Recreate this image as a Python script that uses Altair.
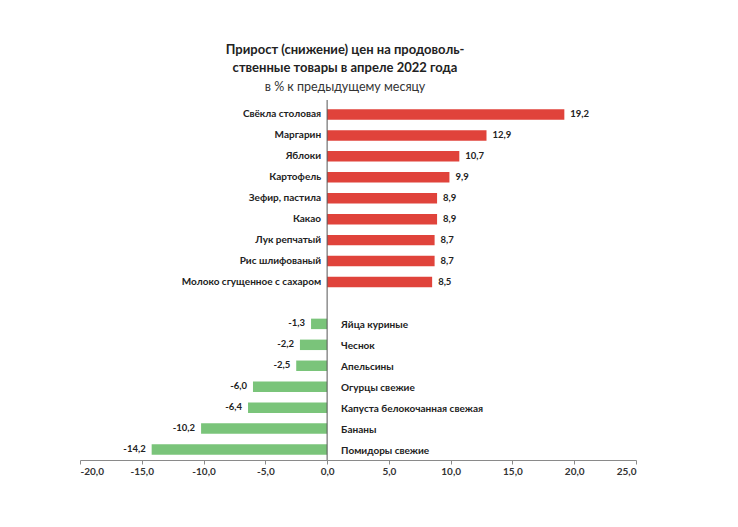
import altair as alt
import pandas as pd

pos_items = ["Свёкла столовая", "Маргарин", "Яблоки", "Картофель", "Зефир, пастила",
             "Какао", "Лук репчатый", "Рис шлифованый", "Молоко сгущенное с сахаром"]
pos_values = [19.2, 12.9, 10.7, 9.9, 8.9, 8.9, 8.7, 8.7, 8.5]

neg_items = ["Яйца куриные", "Чеснок", "Апельсины", "Огурцы свежие",
             "Капуста белокочанная свежая", "Бананы", "Помидоры свежие"]
neg_values = [-1.3, -2.2, -2.5, -6.0, -6.4, -10.2, -14.2]

x_ticks = [-20, -15, -10, -5, 0, 5, 10, 15, 20, 25]

title_lines = ["Прирост (снижение) цен на продоволь-", "ственные товары в апреле 2022 года"]
subtitle = "в % к предыдущему месяцу"

SPACER = " "
FONT = "Lato"

rows = []
for n, v in zip(pos_items, pos_values):
    rows.append({"item": n, "value": v, "sign": "pos", "label": f"{v:.1f}".replace(".", ",")})
for n, v in zip(neg_items, neg_values):
    rows.append({"item": n, "value": v, "sign": "neg", "label": f"{v:.1f}".replace(".", ",")})
df = pd.DataFrame(rows)

domain = pos_items + [SPACER] + neg_items

x_enc = alt.X("value:Q",
              scale=alt.Scale(domain=[-20, 25], nice=False, zero=False),
              axis=alt.Axis(values=x_ticks, title=None, grid=False,
                            domainColor="#8a8a8a", tickColor="#8a8a8a", tickSize=4,
                            labelFont=FONT, labelFontSize=10, labelFontWeight="bold",
                            labelColor="#333333", labelPadding=2,
                            labelExpr="replace(replace(format(datum.value, '.1f'), '.', ','), '−', '-')"))
y_enc = alt.Y("item:N", scale=alt.Scale(domain=domain, paddingInner=0.5, paddingOuter=0.25),
              axis=None, sort=domain)

base = alt.Chart(df)

bars = base.mark_bar().encode(
    x=x_enc, y=y_enc,
    color=alt.Color("sign:N", scale=alt.Scale(domain=["pos", "neg"], range=["#e0433b", "#7ac47a"]),
                    legend=None),
)

zero = alt.Chart(pd.DataFrame({"z": [0]})).mark_rule(color="#555555", strokeWidth=1).encode(
    x=alt.X("z:Q", scale=alt.Scale(domain=[-20, 25], nice=False, zero=False)),
    y=alt.value(-4), y2=alt.value(356))

pos_names = base.transform_filter("datum.sign == 'pos'").mark_text(
    align="right", baseline="middle", dx=-6, font=FONT, fontSize=10, fontWeight="bold",
    color="#222222").encode(x=alt.datum(0), y=y_enc, text="item:N")
neg_names = base.transform_filter("datum.sign == 'neg'").mark_text(
    align="left", baseline="middle", dx=14, dy=1, font=FONT, fontSize=10, fontWeight="bold",
    color="#222222").encode(x=alt.datum(0), y=y_enc, text="item:N")

pos_vals = base.transform_filter("datum.sign == 'pos'").mark_text(
    align="left", baseline="middle", dx=6, font=FONT, fontSize=9.5, fontWeight="bold",
    color="#222222").encode(x=x_enc, y=y_enc, text="label:N")
neg_vals = base.transform_filter("datum.sign == 'neg'").mark_text(
    align="right", baseline="middle", dx=-6, dy=-1, font=FONT, fontSize=9.5, fontWeight="bold",
    color="#222222").encode(x=x_enc, y=y_enc, text="label:N")

chart = alt.layer(bars, zero, pos_names, neg_names, pos_vals, neg_vals).properties(
    width=556, height=356,
    autosize=alt.AutoSizeParams(type="none"),
    padding={"left": 72, "top": 96, "right": 94, "bottom": 59},
    background="white",
    title=alt.TitleParams(text=title_lines, subtitle=subtitle, anchor="middle",
                          font=FONT, fontSize=13, fontWeight="bold", color="#222222",
                          lineHeight=18, subtitleFont=FONT, subtitleFontSize=12.5,
                          subtitleColor="#333333", subtitlePadding=6,
                          dx=-13, offset=6),
).configure_view(stroke=None)

chart.save("out.html", embed_options={"renderer": "svg", "actions": False})
